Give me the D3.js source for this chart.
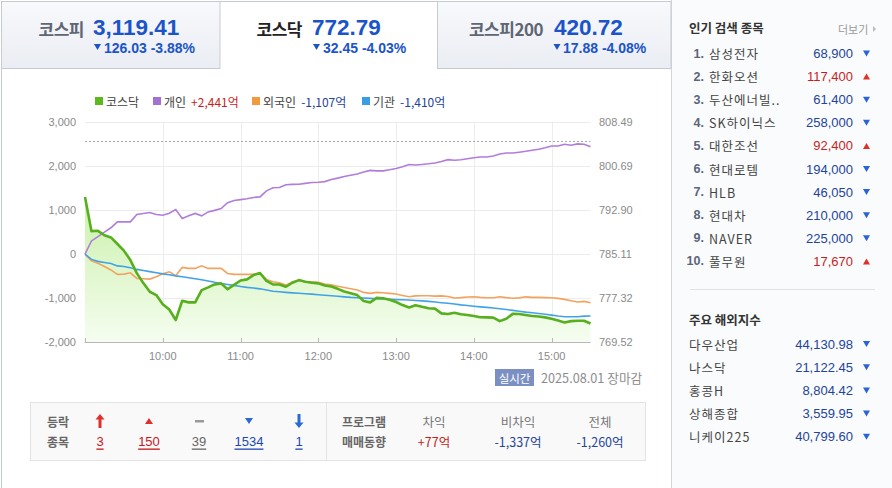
<!DOCTYPE html>
<html><head><meta charset="utf-8">
<script src="https://cdn.jsdelivr.net/npm/d3@7"></script>
<style>
html,body{margin:0;padding:0;background:#fff;}
svg{display:block;}
</style></head><body>
<svg id="c" width="892" height="488"></svg>
<script>
// ---------- DATA ----------
const times = ["09:00","09:05","09:10","09:15","09:20","09:25","09:30","09:35","09:40","09:45",
"09:50","09:55","10:00","10:05","10:10","10:15","10:20","10:25","10:30","10:35",
"10:40","10:45","10:50","10:55","11:00","11:05","11:10","11:15","11:20","11:25",
"11:30","11:35","11:40","11:45","11:50","11:55","12:00","12:05","12:10","12:15",
"12:20","12:25","12:30","12:35","12:40","12:45","12:50","12:55","13:00","13:05",
"13:10","13:15","13:20","13:25","13:30","13:35","13:40","13:45","13:50","13:55",
"14:00","14:05","14:10","14:15","14:20","14:25","14:30","14:35","14:40","14:45",
"14:50","14:55","15:00","15:05","15:10","15:15","15:20","15:25","15:30"];
const kosdaq = [795.26,789.18,789.24,788.46,788.07,786.90,785.73,784.05,781.74,779.97,
778.43,777.84,776.22,775.29,773.42,776.84,776.55,776.55,778.73,779.21,
779.73,779.92,778.87,779.65,780.43,780.63,781.39,781.76,780.35,779.74,
779.73,779.32,780.03,780.50,780.20,780.03,779.92,779.54,779.38,778.95,
778.48,778.17,777.84,776.78,776.55,777.35,777.28,777.00,776.61,776.07,
775.64,776.03,775.76,775.52,775.44,774.60,774.49,774.70,774.43,774.31,
774.13,773.92,773.89,773.85,773.22,773.65,774.51,774.49,774.31,774.13,
774.04,773.89,773.65,773.34,772.99,773.22,773.29,773.29,772.79];
const personal = [0,300,400,500,600,734,734,734,902,925,
948,902,886,930,1016,811,871,925,871,960,
996,1035,1170,1220,1240,1260,1290,1303,1440,1510,
1515,1580,1587,1590,1610,1629,1637,1650,1700,1730,
1765,1795,1825,1870,1905,1895,1894,1920,1950,1990,
2038,2027,2040,2055,2074,2108,2150,2136,2146,2170,
2192,2212,2212,2232,2280,2300,2303,2320,2340,2364,
2388,2420,2462,2462,2500,2477,2508,2500,2441];
const foreign = [0,-150,-210,-280,-360,-461,-455,-425,-552,-561,
-568,-516,-445,-402,-493,-302,-325,-325,-266,-325,
-325,-325,-440,-461,-461,-461,-461,-430,-580,-630,
-650,-705,-630,-607,-630,-630,-643,-680,-700,-730,
-760,-790,-818,-871,-893,-871,-880,-893,-909,-940,
-970,-950,-948,-948,-955,-950,-965,-1000,-990,-975,
-970,-984,-993,-993,-970,-990,-1005,-995,-972,-984,
-984,-990,-993,-1007,-1030,-1061,-1091,-1075,-1107];
const institution = [0,-120,-165,-190,-215,-268,-282,-310,-348,-372,
-398,-423,-450,-470,-495,-516,-536,-562,-585,-612,
-642,-668,-691,-711,-735,-757,-772,-790,-815,-845,
-858,-871,-882,-892,-901,-911,-923,-936,-949,-960,
-972,-984,-992,-1000,-1007,-1015,-1022,-1030,-1035,-1040,
-1045,-1055,-1065,-1075,-1090,-1105,-1118,-1135,-1155,-1170,
-1185,-1200,-1212,-1228,-1245,-1262,-1280,-1300,-1320,-1336,
-1352,-1370,-1388,-1408,-1424,-1424,-1424,-1412,-1410];
const prevClose = 805.24;
const leftTicks = [3000,2000,1000,0,-1000,-2000];
const rightTicks = ["808.49","800.69","792.90","785.11","777.32","769.52"];
const xTicks = ["10:00","11:00","12:00","13:00","14:00","15:00"];

const legendNames = ["코스닥","개인","외국인","기관"];
const legendValues = ["","+2,441억","-1,107억","-1,410억"];

const tabNames = ["코스피","코스닥","코스피200"];
const tabValues = ["3,119.41","772.79","420.72"];
const tabChanges = ["126.03 -3.88%","32.45 -4.03%","17.88 -4.08%"];

const popNames = ["삼성전자","한화오션","두산에너빌..","SK하이닉스","대한조선","현대로템","HLB","현대차","NAVER","풀무원"];
const popPrices = ["68,900","117,400","61,400","258,000","92,400","194,000","46,050","210,000","225,000","17,670"];
const popDir = ["down","up","down","down","up","down","down","down","down","up"];

const worldNames = ["다우산업","나스닥","홍콩H","상해종합","니케이225"];
const worldValues = ["44,130.98","21,122.45","8,804.42","3,559.95","40,799.60"];
const worldDir = ["down","down","down","down","down"];

const breadthCounts = ["3","150","39","1534","1"];
const programLabels = ["차익","비차익","전체"];
const programValues = ["+77억","-1,337억","-1,260억"];

// ---------- STYLE ----------
const KR = '"Noto Sans CJK KR","Noto Sans",sans-serif';
const LAT = '"Liberation Sans",Arial,sans-serif';
const BLUE = "#1b54c9", NAVY = "#23449b", RED = "#c81e1e";
const svg = d3.select("#c");
const defs = svg.append("defs");

function txt(g, x, y, s, o = {}) {
  return g.append("text").attr("x", x).attr("y", y).text(s)
    .attr("font-family", o.f || KR).attr("font-size", o.s || 12)
    .attr("font-weight", o.w || "normal").attr("fill", o.c || "#333")
    .attr("text-anchor", o.a || "start").attr("dominant-baseline", "central")
    .attr("letter-spacing", o.ls || 0);
}
function tri(g, x, y, dir, color, w = 7, h = 6) {
  const p = dir === "up"
    ? `M${x - w / 2},${y + h / 2}L${x + w / 2},${y + h / 2}L${x},${y - h / 2}Z`
    : `M${x - w / 2},${y - h / 2}L${x + w / 2},${y - h / 2}L${x},${y + h / 2}Z`;
  g.append("path").attr("d", p).attr("fill", color);
}

// ---------- FRAME ----------
const tg = defs.append("linearGradient").attr("id", "tabg").attr("x1", 0).attr("y1", 0).attr("x2", 0).attr("y2", 1);
tg.append("stop").attr("offset", 0).attr("stop-color", "#f8f9fc");
tg.append("stop").attr("offset", 1).attr("stop-color", "#eaedf3");

svg.append("rect").attr("x", 671).attr("y", 0).attr("width", 221).attr("height", 488).attr("fill", "#fafbfc");
svg.append("line").attr("x1", 671.5).attr("x2", 671.5).attr("y1", 0).attr("y2", 488).attr("stroke", "#d3d6dc");
svg.append("line").attr("x1", 1.5).attr("x2", 1.5).attr("y1", 1).attr("y2", 488).attr("stroke", "#c6cbd3");

const tabG = svg.append("g");
tabG.append("rect").attr("x", 1.5).attr("y", 1.5).attr("width", 218.5).attr("height", 67).attr("fill", "url(#tabg)").attr("stroke", "#c6cbd3");
tabG.append("rect").attr("x", 437.5).attr("y", 1.5).attr("width", 233.5).attr("height", 67).attr("fill", "url(#tabg)").attr("stroke", "#c6cbd3");
tabG.append("line").attr("x1", 220).attr("x2", 437.5).attr("y1", 1.5).attr("y2", 1.5).attr("stroke", "#c6cbd3");

const tabPos = [{n: 84, v: 93, t: 97.5, c: 104}, {n: 302, v: 312, t: 316.5, c: 323}, {n: 543, v: 554, t: 557, c: 563}];
tabNames.forEach((n, i) => {
  const p = tabPos[i];
  txt(tabG, p.n, 28, n, {s: 17, w: "bold", c: i === 1 ? "#222" : "#5f6673", a: "end", ls: -0.5});
  txt(tabG, p.v, 27.5, tabValues[i], {f: LAT, s: 22.5, w: "bold", c: BLUE});
  tri(tabG, p.t, 47, "down", BLUE, 7, 6);
  txt(tabG, p.c, 47.5, tabChanges[i], {f: LAT, s: 14, w: "bold", c: BLUE});
});

// ---------- LEGEND ----------
const colors = ["#5cb81f", "#a271d2", "#f39a3e", "#3b9de4"];
const legG = svg.append("g");
const legX = [95, 153, 252, 362];
legendNames.forEach((n, i) => {
  legG.append("rect").attr("x", legX[i]).attr("y", 97).attr("width", 8).attr("height", 8).attr("fill", colors[i]);
  const t = txt(legG, legX[i] + 11, 101, n, {s: 12, c: "#444"});
  if (legendValues[i]) {
    const w = t.node().getComputedTextLength();
    txt(legG, legX[i] + 11 + w + 5, 101, legendValues[i], {s: 12, c: legendValues[i][0] === "+" ? RED : NAVY});
  }
});

// ---------- CHART ----------
const parse = d3.timeParse("%H:%M");
const x = d3.scaleTime().domain([parse("09:00"), parse("15:30")]).range([85, 590.5]);
const yL = d3.scaleLinear().domain([-2000, 3000]).range([342, 122.3]);
const yR = d3.scaleLinear().domain([769.52, 808.49]).range([342, 122.3]);
const fmt = d3.formatLocale({decimal: ".", thousands: ",", grouping: [3], currency: ["", ""], minus: "-"}).format(",");

const ch = svg.append("g");
ch.selectAll(".hg").data(leftTicks).join("line")
  .attr("x1", 85).attr("x2", 590.5).attr("y1", d => Math.round(yL(d)) + 0.5).attr("y2", d => Math.round(yL(d)) + 0.5)
  .attr("stroke", "#ececec");
ch.selectAll(".vg").data(xTicks).join("line")
  .attr("x1", d => Math.round(x(parse(d))) + 0.5).attr("x2", d => Math.round(x(parse(d))) + 0.5)
  .attr("y1", 122).attr("y2", 342).attr("stroke", "#ececec");
ch.selectAll(".ll").data(leftTicks).join("text")
  .attr("x", 76).attr("y", d => yL(d)).text(d => fmt(d))
  .attr("text-anchor", "end").attr("dominant-baseline", "central")
  .attr("font-family", LAT).attr("font-size", 11).attr("fill", "#8a8a8a");
ch.selectAll(".rl").data(rightTicks).join("text")
  .attr("x", 599).attr("y", d => yR(+d)).text(d => d)
  .attr("dominant-baseline", "central")
  .attr("font-family", LAT).attr("font-size", 11).attr("fill", "#8a8a8a");
ch.selectAll(".xl").data(xTicks).join("text")
  .attr("x", d => x(parse(d))).attr("y", 356).text(d => d)
  .attr("text-anchor", "middle").attr("dominant-baseline", "central")
  .attr("font-family", LAT).attr("font-size", 11).attr("fill", "#8a8a8a");
ch.append("line").attr("x1", 85).attr("x2", 590.5)
  .attr("y1", Math.round(yR(prevClose)) + 0.5).attr("y2", Math.round(yR(prevClose)) + 0.5)
  .attr("stroke", "#aaa").attr("stroke-dasharray", "2,2");

const series = times.map((t, i) => ({t: parse(t), k: kosdaq[i], p: personal[i], f: foreign[i], n: institution[i]}));

const ag = defs.append("linearGradient").attr("id", "areag").attr("gradientUnits", "userSpaceOnUse")
  .attr("x1", 0).attr("y1", 190).attr("x2", 0).attr("y2", 342);
ag.append("stop").attr("offset", 0).attr("stop-color", "#c8f0a6");
ag.append("stop").attr("offset", 1).attr("stop-color", "#f5fdf0");

ch.append("path").datum(series)
  .attr("d", d3.area().x(d => x(d.t)).y0(342).y1(d => yR(d.k)))
  .attr("fill", "url(#areag)");

const lineOf = key => d3.line().x(d => x(d.t)).y(d => yL(d[key]));
ch.append("path").datum(series).attr("d", lineOf("f")).attr("fill", "none").attr("stroke", "#f2a35e").attr("stroke-width", 1.6);
ch.append("path").datum(series).attr("d", lineOf("n")).attr("fill", "none").attr("stroke", "#41a3e6").attr("stroke-width", 1.6);
ch.append("path").datum(series).attr("d", lineOf("p")).attr("fill", "none").attr("stroke", "#b07ddb").attr("stroke-width", 1.6);
ch.append("path").datum(series).attr("d", d3.line().x(d => x(d.t)).y(d => yR(d.k)))
  .attr("fill", "none").attr("stroke", "#56b01d").attr("stroke-width", 2.6).attr("stroke-linejoin", "round");

ch.append("line").attr("x1", 84.5).attr("x2", 590.5).attr("y1", 342.5).attr("y2", 342.5).attr("stroke", "#b8b8b8");
ch.selectAll(".tk").data(["09:00"].concat(xTicks)).join("line")
  .attr("x1", d => Math.round(x(parse(d))) + 0.5).attr("x2", d => Math.round(x(parse(d))) + 0.5)
  .attr("y1", 338).attr("y2", 342).attr("stroke", "#b8b8b8");

// ---------- STATUS ----------
const st = svg.append("g");
st.append("rect").attr("x", 495).attr("y", 369).attr("width", 39).attr("height", 17).attr("fill", "#7c8fc3");
txt(st, 514.5, 377.5, "실시간", {s: 11.5, c: "#fff", a: "middle"});
txt(st, 541, 377.5, "2025.08.01 장마감", {s: 12.7, c: "#8c8c8c"});

// ---------- BOTTOM BOX ----------
const bx = svg.append("g");
bx.append("rect").attr("x", 30.5).attr("y", 402.5).attr("width", 615).attr("height", 58).attr("fill", "#f9f9f9").attr("stroke", "#e3e3e3");
bx.append("line").attr("x1", 326.5).attr("x2", 326.5).attr("y1", 403).attr("y2", 460).attr("stroke", "#e3e3e3");
txt(bx, 58, 421, "등락", {s: 12, w: "bold", c: "#666", a: "middle"});
txt(bx, 58, 441, "종목", {s: 12, w: "bold", c: "#666", a: "middle"});
const bCols = [100, 149, 199, 249, 299];
const bColors = ["#c8161d", "#c8161d", "#666", "#2046b5", "#2046b5"];
bx.append("path").attr("d", "M100,414L104.5,419.5L101.5,419.5L101.5,428L98.5,428L98.5,419.5L95.5,419.5Z").attr("fill", "#e0302a");
tri(bx, 149, 421, "up", "#e0302a", 8, 6);
bx.append("rect").attr("x", 195).attr("y", 420).attr("width", 9).attr("height", 2.5).attr("fill", "#9a9a9a");
tri(bx, 249, 421, "down", "#2a6ad6", 8, 6);
bx.append("path").attr("d", "M299,428L303.5,422.5L300.5,422.5L300.5,414L297.5,414L297.5,422.5L294.5,422.5Z").attr("fill", "#2a6ad6");
breadthCounts.forEach((c, i) => {
  txt(bx, bCols[i], 441, c, {f: LAT, s: 13, c: bColors[i], a: "middle"}).attr("text-decoration", "underline");
});
txt(bx, 364, 421, "프로그램", {s: 12, w: "bold", c: "#666", a: "middle"});
txt(bx, 364, 441, "매매동향", {s: 12, w: "bold", c: "#666", a: "middle"});
const pCols = [434, 518, 600];
programLabels.forEach((l, i) => {
  txt(bx, pCols[i], 421, l, {s: 12.5, c: "#777", a: "middle"});
  txt(bx, pCols[i], 441, programValues[i], {s: 12.5, c: programValues[i][0] === "+" ? RED : NAVY, a: "middle"});
});

// ---------- SIDEBAR ----------
const sb = svg.append("g");
txt(sb, 689, 27, "인기 검색 종목", {s: 12.5, w: "bold", c: "#333"});
txt(sb, 838, 29, "더보기", {s: 11, c: "#9a9a9a"});
sb.append("path").attr("d", "M873,26L876,29L873,32Z").attr("fill", "#bbb");
popNames.forEach((n, i) => {
  const y = 53.5 + i * 23.1;
  txt(sb, 704, y, (i + 1) + ".", {f: LAT, s: 12.5, w: "bold", c: "#5a657e", a: "end"});
  txt(sb, 709, y, n, {s: 12.5, c: "#444", ls: 1});
  const col = popDir[i] === "up" ? RED : NAVY;
  txt(sb, 853, y, popPrices[i], {f: LAT, s: 13, c: col, a: "end"});
  tri(sb, 866.5, y, popDir[i], popDir[i] === "up" ? "#e0302a" : "#2a63d6", 7, 6);
});
sb.append("line").attr("x1", 690).attr("x2", 875).attr("y1", 289.5).attr("y2", 289.5).attr("stroke", "#e2e2e2");
txt(sb, 689, 319, "주요 해외지수", {s: 12.5, w: "bold", c: "#333"});
worldNames.forEach((n, i) => {
  const y = 344 + i * 23.2;
  txt(sb, 689, y, n, {s: 12.5, c: "#444", ls: 1});
  txt(sb, 853, y, worldValues[i], {f: LAT, s: 13, c: NAVY, a: "end"});
  tri(sb, 866.5, y, worldDir[i], "#2a63d6", 7, 6);
});
</script>
</body></html>
